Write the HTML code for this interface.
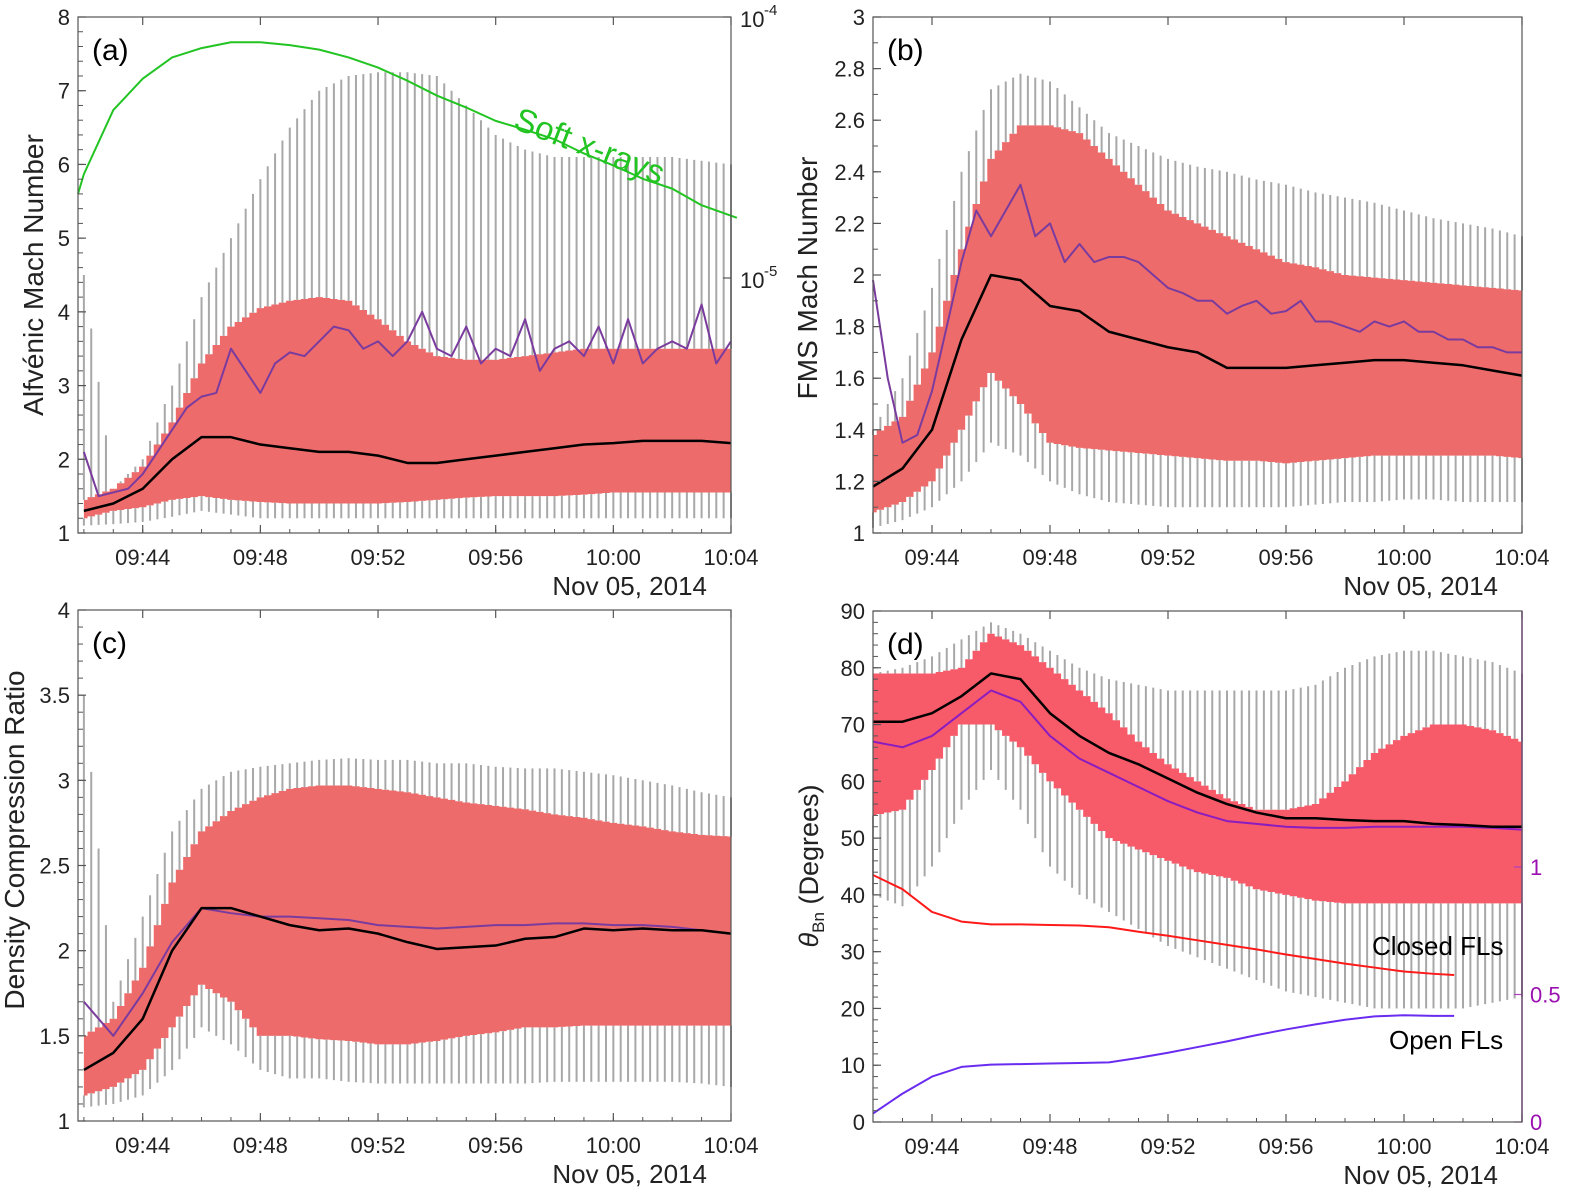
<!DOCTYPE html>
<html><head><meta charset="utf-8">
<style>
html,body{margin:0;padding:0;background:#fff;}
svg{display:block;font-family:"Liberation Sans",sans-serif;}
</style></head>
<body>
<svg id="fig" width="1570" height="1193" viewBox="0 0 1570 1193" xmlns="http://www.w3.org/2000/svg"></svg>
<script>
// ---------- shared ----------
const T1 = [0,1,2,3,4,5,6,7,8,9,10,11,12,13,14,15,16,17,18,19,20,21,22];
const T05 = [0,0.5,1,1.5,2,2.5,3,3.5,4,4.5,5,5.5,6,6.5,7,7.5,8,8.5,9,9.5,10,10.5,11,11.5,12,12.5,13,13.5,14,14.5,15,15.5,16,16.5,17,17.5,18,18.5,19,19.5,20,20.5,21,21.5,22];
const timeTicks = [2,6,10,14,18,22];
const timeLabels = ["09:44","09:48","09:52","09:56","10:00","10:04"];

// ---------- panel (a) ----------
const aBandHi = [1.45,1.6,1.9,2.5,3.3,3.8,4.05,4.15,4.2,4.15,3.9,3.6,3.4,3.35,3.35,3.4,3.45,3.5,3.5,3.5,3.5,3.5,3.5];
const aBandLo = [1.2,1.3,1.35,1.45,1.5,1.45,1.42,1.4,1.4,1.4,1.4,1.42,1.45,1.48,1.5,1.5,1.5,1.52,1.55,1.55,1.55,1.55,1.55];
const aWhiskHi = [4.5,1.6,2.0,3.0,4.2,5.0,5.8,6.5,7.0,7.2,7.25,7.25,7.2,6.8,6.4,6.2,6.1,6.1,6.1,6.1,6.1,6.05,6.0];
const aWhiskLo = [1.1,1.12,1.15,1.22,1.3,1.25,1.2,1.2,1.2,1.2,1.2,1.2,1.2,1.2,1.2,1.2,1.2,1.2,1.2,1.2,1.2,1.2,1.2];
const aMean = [1.3,1.4,1.6,2.0,2.3,2.3,2.2,2.15,2.1,2.1,2.05,1.95,1.95,2.0,2.05,2.1,2.15,2.2,2.22,2.25,2.25,2.25,2.22];
const aPurple = [2.1,1.5,1.55,1.6,1.8,2.1,2.4,2.7,2.85,2.9,3.5,3.2,2.9,3.3,3.45,3.4,3.6,3.8,3.75,3.5,3.6,3.4,3.6,4.0,3.5,3.4,3.8,3.3,3.5,3.4,3.9,3.2,3.5,3.6,3.4,3.8,3.3,3.9,3.3,3.5,3.6,3.5,4.1,3.3,3.6];
const xrayT = [-0.2,0,1,2,3,4,5,6,7,8,9,10,11,12,13,14,15,16,17,18,19,20,21,22.2];
const xrayFlux = [2.1e-5,2.5e-5,4.4e-5,5.8e-5,7.0e-5,7.6e-5,8.0e-5,8.0e-5,7.8e-5,7.5e-5,7.0e-5,6.4e-5,5.7e-5,5.0e-5,4.5e-5,4.0e-5,3.7e-5,3.4e-5,3.0e-5,2.7e-5,2.4e-5,2.2e-5,1.9e-5,1.7e-5];
const aYTicks = [1,2,3,4,5,6,7,8];

// ---------- panel (b) ----------
const bBandHi = [1.38,1.45,1.7,2.1,2.45,2.58,2.58,2.55,2.45,2.35,2.25,2.2,2.15,2.1,2.05,2.03,2.0,1.99,1.98,1.97,1.96,1.95,1.94];
const bBandLo = [1.08,1.12,1.2,1.4,1.62,1.5,1.35,1.33,1.32,1.31,1.3,1.29,1.28,1.28,1.27,1.28,1.29,1.3,1.3,1.3,1.3,1.3,1.29];
const bWhiskHi = [1.4,1.6,1.95,2.4,2.72,2.78,2.75,2.65,2.55,2.5,2.45,2.42,2.4,2.37,2.35,2.32,2.3,2.28,2.25,2.22,2.2,2.18,2.15];
const bWhiskLo = [1.02,1.05,1.1,1.2,1.35,1.3,1.2,1.15,1.12,1.11,1.1,1.1,1.1,1.1,1.1,1.11,1.12,1.12,1.13,1.13,1.12,1.12,1.12];
const bMean = [1.18,1.25,1.4,1.75,2.0,1.98,1.88,1.86,1.78,1.75,1.72,1.7,1.64,1.64,1.64,1.65,1.66,1.67,1.67,1.66,1.65,1.63,1.61];
const bPurple = [1.98,1.6,1.35,1.38,1.55,1.8,2.05,2.25,2.15,2.25,2.35,2.15,2.2,2.05,2.12,2.05,2.07,2.07,2.05,2.0,1.95,1.93,1.9,1.9,1.85,1.88,1.9,1.85,1.86,1.9,1.82,1.82,1.8,1.78,1.82,1.8,1.82,1.78,1.78,1.75,1.75,1.72,1.72,1.7,1.7];
const bYTicks = [1,1.2,1.4,1.6,1.8,2,2.2,2.4,2.6,2.8,3];

// ---------- panel (c) ----------
const cBandHi = [1.5,1.6,1.9,2.4,2.7,2.82,2.9,2.95,2.97,2.97,2.95,2.93,2.9,2.87,2.85,2.83,2.8,2.78,2.75,2.73,2.7,2.68,2.67];
const cBandLo = [1.15,1.2,1.3,1.55,1.8,1.7,1.5,1.5,1.48,1.47,1.45,1.45,1.47,1.5,1.52,1.55,1.55,1.56,1.56,1.56,1.56,1.56,1.56];
const cWhiskHi = [3.5,1.7,2.2,2.7,2.95,3.05,3.08,3.1,3.12,3.13,3.12,3.12,3.1,3.1,3.08,3.07,3.07,3.05,3.03,3.0,2.97,2.93,2.9];
const cWhiskLo = [1.08,1.1,1.15,1.3,1.55,1.45,1.3,1.25,1.25,1.23,1.22,1.22,1.22,1.22,1.22,1.22,1.23,1.23,1.23,1.23,1.23,1.22,1.2];
const cMean = [1.3,1.4,1.6,2.0,2.25,2.25,2.2,2.15,2.12,2.13,2.1,2.05,2.01,2.02,2.03,2.07,2.08,2.13,2.12,2.13,2.12,2.12,2.1];
const cPurple = [1.7,1.5,1.75,2.05,2.25,2.22,2.2,2.2,2.19,2.18,2.15,2.14,2.13,2.14,2.15,2.15,2.16,2.16,2.15,2.15,2.14,2.12,2.1];
const cYTicks = [1,1.5,2,2.5,3,3.5,4];

// ---------- panel (d) ----------
const dBandHi = [79,79,79,80,86,84,80,76,72,67,63,60,57,55,55,56,60,65,68,70,70,69,67];
const dBandLo = [54,55,62,70,70,66,60,55,50,48,46,44,43,41,40,39,38.5,38.5,38.5,38.5,38.5,38.5,38.5];
const dWhiskHi = [79,80,82,85,88,86,83,80,78,77,76,76,76,76,76,77,80,82,83,83,82,81,79];
const dWhiskLo = [40,38,45,55,62,55,45,40,37,34,31,29,27,25,23,22,21,20,20,20,20,21,22];
const dMean = [70.5,70.5,72,75,79,78,72,68,65,63,60.5,58,56,54.5,53.5,53.5,53.2,53,53,52.5,52.3,52,52];
const dPurple = [67,66,68,72,76,74,68,64,61.5,59,56.5,54.5,53,52.5,52,51.8,51.8,52,52,52,52,51.8,51.5];
const flT = [0,1,2,3,4,5,6,7,8,9,10,11,12,13,14,15,16,17,18,19,19.7];
const closedFL = [43.5,41,37,35.3,34.8,34.8,34.7,34.6,34.3,33.5,32.8,32,31.2,30.4,29.5,28.7,27.9,27.2,26.5,26.1,25.9];
const openFL = [1.5,5,8,9.7,10.1,10.2,10.3,10.4,10.5,11.3,12.2,13.2,14.2,15.3,16.3,17.2,18,18.6,18.8,18.7,18.7];
const dYTicks = [0,10,20,30,40,50,60,70,80,90];
const dRightTicks = [0,0.5,1];

// ---------- drawing ----------
const svg = document.getElementById('fig');
const NS = 'http://www.w3.org/2000/svg';
function mk(tag, attrs, parent){
  const e = document.createElementNS(NS, tag);
  for (const k in attrs) e.setAttribute(k, attrs[k]);
  (parent||svg).appendChild(e);
  return e;
}
function valAt(T, V, t){ // render-time lookup along the series
  if(t<=T[0]) return V[0];
  for(let i=1;i<T.length;i++){ if(t<=T[i]){ const f=(t-T[i-1])/(T[i]-T[i-1]); return V[i-1]+f*(V[i]-V[i-1]); } }
  return V[V.length-1];
}

function panel(cfg){
  const g = mk('g', {});
  
  
  const {L,R,Tp,B,t0,ymin,ymax} = cfg;
  const X = t => L + (t - t0) * (R - L) / (22 - t0);
  const Y = v => B - (v - ymin) * (B - Tp) / (ymax - ymin);
  const dt=0.25;
  // band
  let pts=[];
  for(let t=0;t<=22+1e-9;t+=dt){ const v=valAt(T1,cfg.bandHi,t); pts.push([X(Math.max(t-dt/2,0)),Y(v)],[X(Math.min(t+dt/2,22)),Y(v)]); }
  for(let t=22;t>=-1e-9;t-=dt){ const v=valAt(T1,cfg.bandLo,t); pts.push([X(Math.min(t+dt/2,22)),Y(v)],[X(Math.max(t-dt/2,0)),Y(v)]); }
  const band = mk('polygon',{points:pts.map(p=>p.join(',')).join(' '),fill:cfg.bandColor},g);
  
  
  // whiskers
  const wg = mk('g',{stroke:'#a8a8a8','stroke-width':2},g);
  
  
  for(let t=0;t<=22+1e-9;t+=dt){
    const x=X(t);
    const hi=valAt(T1,cfg.whiskHi,t), lo=valAt(T1,cfg.whiskLo,t);
    const bh=valAt(T1,cfg.bandHi,t), bl=valAt(T1,cfg.bandLo,t);
    if(hi>bh){ const l=mk('line',{x1:x,x2:x,y1:Y(hi),y2:Y(bh)},wg);   }
    if(lo<bl){ const l=mk('line',{x1:x,x2:x,y1:Y(bl),y2:Y(lo)},wg);   }
  }
  const line=(T,V,col,w,name,Yf)=>{
    const yf=Yf||Y;
    const p=mk('polyline',{points:T.map((t,i)=>X(t)+','+yf(V[i])).join(' '),fill:'none',stroke:col,'stroke-width':w,'stroke-linejoin':'round'},g);
    
    
  };
  if(cfg.extra) cfg.extra(X,Y,g,line);
  line(cfg.purpleT,cfg.purple,cfg.purpleColor,2,'purple-line');
  line(T1,cfg.mean,'#000',2.5,'mean-line');
  const fr = mk('rect',{x:L,y:Tp,width:R-L,height:B-Tp,fill:'none',stroke:'#555','stroke-width':1.2},g);
  
  
  cfg.yTicks.forEach((v,k)=>{
    const y=Y(v);
    mk('line',{x1:L,x2:L+8,y1:y,y2:y,stroke:'#555','stroke-width':1.2},g);
    const tx=mk('text',{x:L-8,y:y+8,'text-anchor':'end','font-size':22,fill:'#222'},g);
    tx.textContent = cfg.yLabels ? cfg.yLabels[k] : String(v);
    
    
  });
  if(cfg.minor){ for(let v=ymin; v<=ymax+1e-9; v+=cfg.minor){ const y=Y(v); mk('line',{x1:L,x2:L+5,y1:y,y2:y,stroke:'#555','stroke-width':1},g);} }
  timeTicks.forEach((t,k)=>{
    const x=X(t);
    mk('line',{x1:x,x2:x,y1:B,y2:B-8,stroke:'#555','stroke-width':1.2},g);
    mk('line',{x1:x,x2:x,y1:Tp,y2:Tp+8,stroke:'#555','stroke-width':1.2},g);
    const tx=mk('text',{x:x,y:B+32,'text-anchor':'middle','font-size':22,fill:'#222'},g);
    tx.textContent=timeLabels[k];
    
    
  });
  for(let t=Math.ceil(t0);t<=22;t++){ const x=X(t); mk('line',{x1:x,x2:x,y1:B,y2:B-4,stroke:'#555','stroke-width':1},g); }
  const dl=mk('text',{x:R-24,y:B+62,'text-anchor':'end','font-size':26,fill:'#222'},g);
  dl.textContent='Nov 05, 2014';
  
  
  const pl=mk('text',{x:L+14,y:Tp+43,'font-size':30,fill:'#000'},g);
  pl.textContent=cfg.label;
  
  
  if(cfg.yTitle){
    const yt=mk('text',{x:0,y:0,'text-anchor':'middle','font-size':28,fill:'#222',transform:`translate(${cfg.yTitleX},${cfg.yTitleY||(Tp+B)/2}) rotate(-90)`},g);
    yt.textContent=cfg.yTitle;
    
    
  }
  return {X,Y,g};
}

panel({name:'panel-a',L:78,R:731,Tp:17,B:533,t0:-0.2,ymin:1,ymax:8,bandHi:aBandHi,bandLo:aBandLo,whiskHi:aWhiskHi,whiskLo:aWhiskLo,mean:aMean,purple:aPurple,purpleT:T05,purpleColor:'#7a3b9e',bandColor:'#ee6b6b',yTicks:aYTicks,minor:0.2,label:'(a)',yTitle:'Alfvénic Mach Number',yTitleX:43,yTitleY:275,
  extra:(X,Y,g,line)=>{
    const Ylog = f => 17 - (Math.log10(f) + 4) * 261;
    line(xrayT,xrayFlux,'#22c422',2,'soft-xray-line',Ylog);
    [[-4,'10'],[-5,'10']].forEach(([e,b])=>{
      const y=Ylog(Math.pow(10,e));
      mk('line',{x1:731,x2:723,y1:y,y2:y,stroke:'#555','stroke-width':1.2},g);
      const tx=mk('text',{x:740,y:y+10,'font-size':22,fill:'#222'},g);
      tx.textContent=b;
      
      
      const sp=mk('text',{x:764,y:y-2,'font-size':15,fill:'#222'},g);
      sp.textContent=String(e);
      
      
    });
    const sx=mk('text',{x:0,y:0,'font-size':33,fill:'#22c422',transform:'translate(512,128) rotate(21)'},g);
    sx.textContent='Soft x-rays';
    
    
  }});

panel({name:'panel-b',L:873,R:1522,Tp:17,B:533,t0:0,ymin:1,ymax:3,bandHi:bBandHi,bandLo:bBandLo,whiskHi:bWhiskHi,whiskLo:bWhiskLo,mean:bMean,purple:bPurple,purpleT:T05,purpleColor:'#7a3b9e',bandColor:'#ee6b6b',yTicks:bYTicks,yLabels:['1','1.2','1.4','1.6','1.8','2','2.2','2.4','2.6','2.8','3'],minor:0.1,label:'(b)',yTitle:'FMS Mach Number',yTitleX:817,yTitleY:278});

panel({name:'panel-c',L:78,R:731,Tp:610,B:1121,t0:-0.2,ymin:1,ymax:4,bandHi:cBandHi,bandLo:cBandLo,whiskHi:cWhiskHi,whiskLo:cWhiskLo,mean:cMean,purple:cPurple,purpleT:T1,purpleColor:'#7a3b9e',bandColor:'#ee6b6b',yTicks:cYTicks,minor:0.1,label:'(c)',yTitle:'Density Compression Ratio',yTitleX:24,yTitleY:840});

panel({name:'panel-d',L:873,R:1522,Tp:611,B:1122,t0:0,ymin:0,ymax:90,bandHi:dBandHi,bandLo:dBandLo,whiskHi:dWhiskHi,whiskLo:dWhiskLo,mean:dMean,purple:dPurple,purpleT:T1,purpleColor:'#8a1cc0',bandColor:'#f75a69',yTicks:dYTicks,minor:2,label:'(d)',yTitle:null,
  extra:(X,Y,g,line)=>{
    line(flT,closedFL,'#ff1a1a',2,'closed-fl-line');
    line(flT,openFL,'#6a2cf0',2,'open-fl-line');
    mk('line',{x1:1522,x2:1522,y1:611,y2:1122,stroke:'#b040c0','stroke-width':1.5},g);
    const Yr = v => 1122 - v * 255;
    dRightTicks.forEach(v=>{
      const y=Yr(v);
      mk('line',{x1:1522,x2:1514,y1:y,y2:y,stroke:'#b040c0','stroke-width':1.2},g);
      const tx=mk('text',{x:1530,y:y+8,'font-size':22,fill:'#9a10b0'},g);
      tx.textContent=String(v);
      
      
    });
    const c=mk('text',{x:1372,y:955,'font-size':26,fill:'#000'},g);
    c.textContent='Closed FLs';
    
    
    const o=mk('text',{x:1389,y:1049,'font-size':26,fill:'#000'},g);
    o.textContent='Open FLs';
    
    
    const yt=mk('text',{x:0,y:0,'text-anchor':'middle','font-size':27,fill:'#222',transform:'translate(818,866) rotate(-90)'},g);
    
    
    const s1=mk('tspan',{'font-style':'italic'},yt); s1.textContent='θ';
    const s2=mk('tspan',{'font-size':17,dy:6},yt); s2.textContent='Bn';
    const s3=mk('tspan',{dy:-6},yt); s3.textContent='  (Degrees)';
  }});
</script>
</body></html>
